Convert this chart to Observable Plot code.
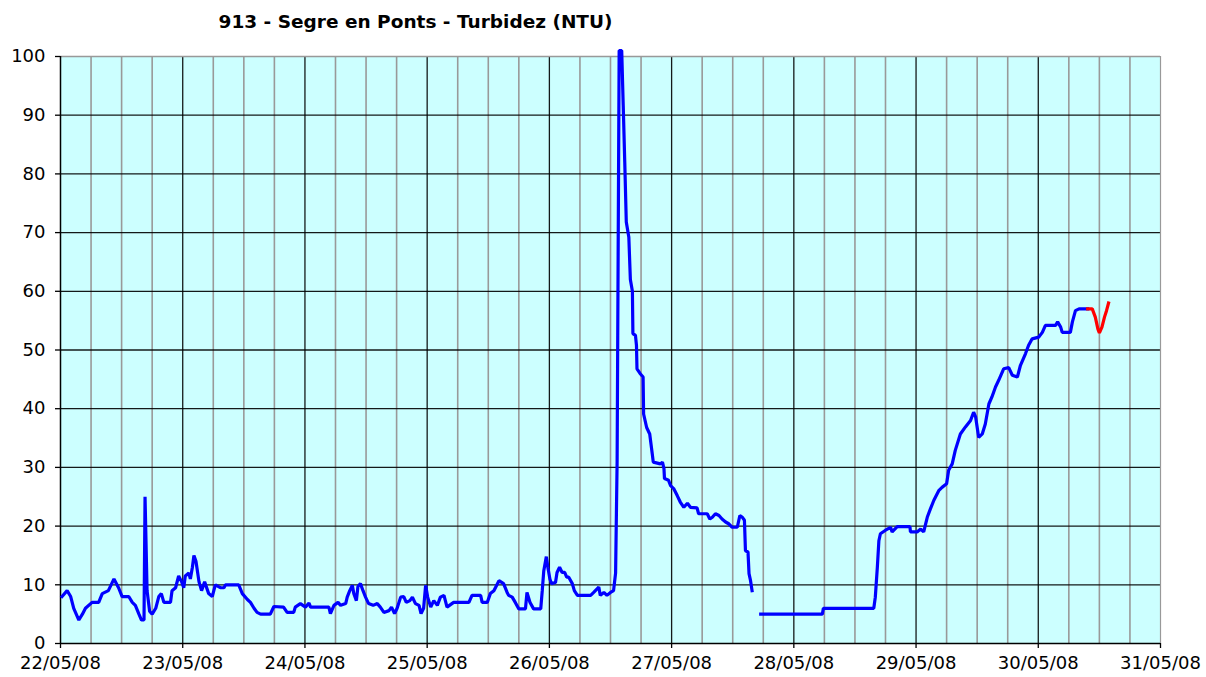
<!DOCTYPE html>
<html><head><meta charset="utf-8">
<script src="https://cdn.jsdelivr.net/npm/d3@7"></script>
<script src="https://cdn.jsdelivr.net/npm/@observablehq/plot@0.6"></script>
<style>body{margin:0;background:#fff;overflow:hidden}</style>
</head><body><div id="chart"></div>
<script>
const chartTitle = "913 - Segre en Ponts - Turbidez (NTU)";
const startDay = [2008, 4, 22];
const dayTickDays = [0,1,2,3,4,5,6,7,8,9];
const yTicks = [0,10,20,30,40,50,60,70,80,90,100];

// hours after 22/05/08 00:00 and turbidity (NTU); null = gap in the record
const blueHours = [
0.3,1.3,2.0,2.6,3.6,4.3,4.9,6.2,7.5,8.2,9.4,10.5,11.4,12.1,13.4,14.1,14.7,15.4,15.9,16.4,16.6,17.0,17.5,18.0,18.7,19.3,19.8,20.3,21.6,21.9,22.6,23.2,23.8,24.2,24.5,25.2,25.5,25.9,26.2,26.6,27.2,27.7,28.3,29.1,29.8,30.4,31.4,32.1,32.4,35.0,35.7,36.7,37.3,38.0,38.6,39.3,41.2,41.9,43.8,44.5,45.8,46.1,47.1,48.1,48.8,49.1,52.7,53.0,53.7,54.5,55.0,56.0,56.3,56.8,57.3,57.6,58.1,58.4,58.9,59.4,59.9,60.5,61.4,62.2,62.8,63.5,64.5,65.0,65.6,66.1,66.8,67.4,67.9,68.6,69.1,69.7,70.4,70.8,71.3,71.7,72.1,72.7,73.3,74.0,74.6,75.3,75.9,77.2,80.2,80.8,82.5,82.8,83.8,84.4,85.1,86.1,87.0,87.7,88.0,88.7,89.3,90.0,91.3,91.6,92.2,92.9,94.3,94.6,94.9,95.4,95.7,96.1,96.4,97.2,97.5,98.0,98.5,99.0,99.4,99.8,100.5,100.9,101.5,104.1,104.7,105.7,106.0,106.7,107.3,108.0,108.6,109.0,109.3,109.7,110.2,110.5,110.8,111.1,111.6,111.9,112.3,112.4,112.9,113.1,113.2,113.8,114.4,114.5,115.1,115.7,116.2,116.4,117.8,118.2,118.5,118.6,119.4,119.8,120.4,121.1,121.7,122.4,123.1,123.7,125.0,125.3,127.0,127.5,128.0,128.6,129.3,129.9,130.6,131.2,131.9,132.9,133.4,133.9,134.3,134.5,135.0,135.2,135.5,135.8,
136.6,
137.5,149.6,149.8,159.7,160.0,160.4,160.7,161.0,162.0,163.0,163.3,164.3,166.8,166.9,168.2,168.9,169.5,170.2,170.8,171.5,172.5,173.1,174.0,174.4,175.1,175.7,176.7,177.7,178.7,179.3,179.7,180.3,181.0,181.6,182.3,182.9,183.6,184.2,185.2,186.2,186.9,187.9,188.5,189.5,190.1,190.8,192.1,192.8,193.4,195.4,195.8,196.4,196.7,198.3,198.7,199.3,200.0,201.7
];
const blueValues = [
8,9,8,6,4,5,6,7,7,8.5,9,11,9.5,8,8,7,6.5,5,4,4,25,9,5.5,5,6,8,8.5,7,7,9,9.5,11.5,10.5,9.5,11.5,12,11,13,15,14,10.5,9,10.5,8.5,8,10,9.5,9.5,10,10,8.5,7.5,7,6,5.3,5,5,6.3,6.2,5.3,5.3,6.2,6.8,6.2,6.9,6.2,6.2,5.1,6.5,7,6.5,6.8,7.9,9,9.9,8.5,7.3,9.7,10.2,9,7.9,6.8,6.5,6.8,6.2,5.3,5.6,6.2,5.1,6,7.9,8,7,7.3,7.9,6.8,6.5,5.1,6,9.9,7.9,6.2,7.3,6.5,7.9,8.2,6.2,7,7,8.2,8.2,7,7,8.5,9,10.7,10.2,8.7,8.2,7.9,7,5.9,5.9,8.7,7,5.9,5.9,9,12.4,14.8,13,11,10.2,10.4,12.1,13,12.1,12.1,11.3,11.3,10.2,9,8.2,8.2,8.7,9.6,8.2,8.7,8.2,8.7,9,12,31,101,101,91.6,82,71.8,69.2,62,60,52.8,52.5,50.8,46.8,46,45.4,39.1,36.8,35.7,32.3,30.9,30.6,30.9,29.8,28.1,27.8,26.9,26.4,25.2,24.1,23.2,23.9,23.2,23.1,22.1,22.1,21.2,21.5,22.1,21.8,21.2,20.7,20.4,19.8,19.8,21.8,21.5,21,15.8,15.6,11.9,10.7,9,
null,
5,5,6,6,7.9,13,17.5,18.7,19.3,19.8,19,19.9,19.9,19,19,19.5,19,21.5,22.9,24.4,26.1,26.6,27.2,29.5,30.6,32.9,35.7,36.9,38,39.4,38.6,35.1,35.7,37.4,40.8,42,43.7,44.8,46.8,47,45.7,45.4,47.4,49.4,50.8,51.9,52.2,53,54.2,54.2,54.8,53.9,53,53,54.8,56.7,57,57
];
const redHours = [201.7,202.6,203.2,203.7,204.0,204.5,205.0,205.4,205.8];
const redValues = [57,57,55.6,53.6,52.9,53.9,55.6,56.7,58];

const t0 = Date.UTC(startDay[0], startDay[1], startDay[2]);
const toDate = h => new Date(t0 + h * 3600e3);
const blue = blueHours.map((h, i) => ({t: toDate(h), v: blueValues[i]}));
const red = redHours.map((h, i) => ({t: toDate(h), v: redValues[i]}));
const dayTicks = dayTickDays.map(d => toDate(d * 24));
const quarterTicks = d3.utcHour.every(6).range(dayTicks[0], dayTicks[dayTicks.length - 1]).filter(d => d.getUTCHours() !== 0);
const innerY = yTicks.filter(v => v > 0 && v < 100);

const chart = Plot.plot({
  width: 1206,
  height: 677,
  marginLeft: 60,
  marginRight: 46,
  marginTop: 56,
  marginBottom: 34,
  style: {fontFamily: "DejaVu Sans", fontSize: "18px", color: "#000", background: "#fff"},
  x: {type: "utc", domain: [dayTicks[0], dayTicks[dayTicks.length - 1]]},
  y: {domain: [0, 100]},
  marks: [
    Plot.frame({fill: "#ccffff", stroke: "none"}),
    Plot.ruleX(quarterTicks, {stroke: "#999999", strokeWidth: 1.6}),
    Plot.ruleY(innerY, {stroke: "#000", strokeWidth: 1.3, strokeOpacity: 0.9}),
    Plot.ruleX(dayTicks.slice(1, -1), {stroke: "#000", strokeWidth: 1.3, strokeOpacity: 0.9}),
    Plot.ruleY([100], {stroke: "#999999", strokeWidth: 1.6}),
    Plot.ruleX([dayTicks[dayTicks.length - 1]], {stroke: "#999999", strokeWidth: 1.2}),
    Plot.ruleY([0], {stroke: "#000", strokeWidth: 1.5}),
    Plot.ruleX([dayTicks[0]], {stroke: "#000", strokeWidth: 1.5}),
    Plot.axisX({ticks: dayTicks, tickFormat: d3.utcFormat("%d/%m/%y"), tickSize: 5, tickPadding: 8, label: null, stroke: "#000", strokeWidth: 1.3}),
    Plot.axisY({ticks: yTicks, tickSize: 5, tickPadding: 10, label: null, stroke: "#000", strokeWidth: 1.3}),
    Plot.line(blue, {x: "t", y: "v", stroke: "#0000ff", strokeWidth: 3.2, strokeLinejoin: "miter", strokeLinecap: "square"}),
    Plot.line(red, {x: "t", y: "v", stroke: "#ff0000", strokeWidth: 3.2, strokeLinejoin: "miter", strokeLinecap: "square"}),
    Plot.text([chartTitle], {frameAnchor: "top-left", dx: 355, dy: -34, textAnchor: "middle", lineAnchor: "middle", fontWeight: "bold", fontSize: 18.5, fill: "#000"})
  ]
});
document.getElementById("chart").append(chart);
</script>
</body></html>
